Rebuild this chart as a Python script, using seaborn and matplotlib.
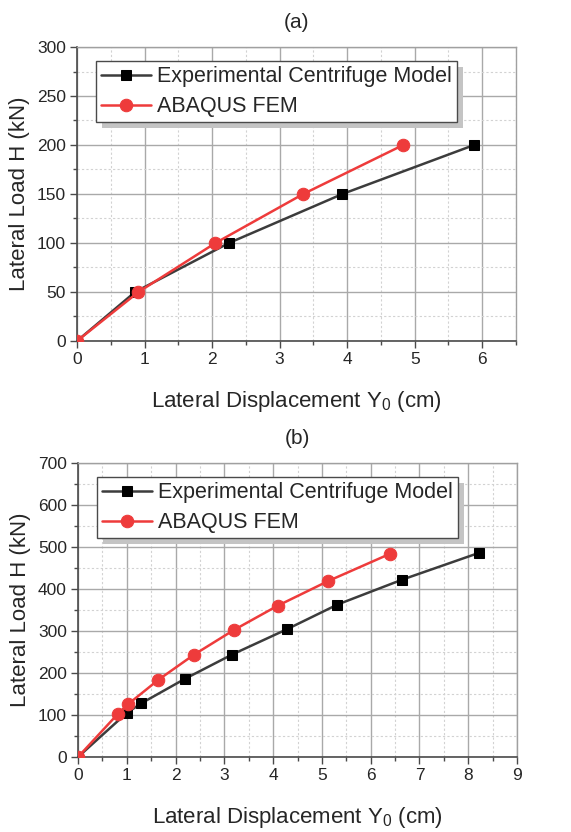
import numpy as np
import pandas as pd
import seaborn as sns
import matplotlib
matplotlib.use("Agg")
import matplotlib.pyplot as plt
from matplotlib.ticker import MultipleLocator
from matplotlib.patches import Rectangle
from matplotlib.transforms import IdentityTransform

# Panel (a): load-displacement data
a_exp_disp = [0.0, 0.86, 2.25, 3.93, 5.88]
a_exp_load = [0, 50, 100, 150, 200]
a_fem_disp = [0.0, 0.91, 2.05, 3.35, 4.83]
a_fem_load = [0, 50, 100, 150, 200]

# Panel (b): load-displacement data
b_exp_disp = [0.0, 1.00, 1.30, 2.19, 3.16, 4.28, 5.32, 6.64, 8.22]
b_exp_load = [0, 105, 128, 186, 244, 304, 363, 422, 486]
b_fem_disp = [0.0, 0.82, 1.03, 1.65, 2.37, 3.19, 4.09, 5.13, 6.40]
b_fem_load = [0, 103, 126, 184, 243, 302, 360, 419, 484]

series_names = ["Experimental Centrifuge Model", "ABAQUS FEM"]
panel_titles = ["(a)", "(b)"]
x_label = "Lateral Displacement Y$_0$ (cm)"
y_label = "Lateral Load H (kN)"

sns.set_theme(style="white")
plt.rcParams["font.family"] = ["Liberation Sans", "DejaVu Sans"]
plt.rcParams["mathtext.fontset"] = "custom"
plt.rcParams["mathtext.rm"] = "Liberation Sans"

fig = plt.figure(figsize=(5.71, 8.32), dpi=100)
ax_a = fig.add_axes([77 / 571, 1 - 341 / 832, 439 / 571, 294 / 832])
ax_b = fig.add_axes([78 / 571, 1 - 757 / 832, 439 / 571, 294 / 832])

EXP_COLOR = "#3c3c3c"
FEM_COLOR = "#ee3b3b"


def build_frame(exp_x, exp_y, fem_x, fem_y):
    return pd.concat([
        pd.DataFrame({"disp": exp_x, "load": exp_y, "series": series_names[0]}),
        pd.DataFrame({"disp": fem_x, "load": fem_y, "series": series_names[1]}),
    ], ignore_index=True)


def draw_panel(ax, df, title, xmax, ymax, ymajor, yminor, xticks_max):
    sub_e = df[df.series == series_names[0]]
    sub_f = df[df.series == series_names[1]]
    sns.lineplot(data=sub_e, x="disp", y="load", ax=ax, color=EXP_COLOR,
                 marker="s", markersize=7, markerfacecolor="black",
                 markeredgecolor="black", linewidth=1.8, label=series_names[0],
                 sort=False, zorder=3)
    sns.lineplot(data=sub_f, x="disp", y="load", ax=ax, color=FEM_COLOR,
                 marker="o", markersize=9, markerfacecolor=FEM_COLOR,
                 markeredgecolor=FEM_COLOR, linewidth=1.8, label=series_names[1],
                 sort=False, zorder=4)
    ax.set_xlim(0, xmax)
    ax.set_ylim(0, ymax)
    ax.xaxis.set_major_locator(MultipleLocator(1))
    ax.xaxis.set_minor_locator(MultipleLocator(0.5))
    ax.yaxis.set_major_locator(MultipleLocator(ymajor))
    ax.yaxis.set_minor_locator(MultipleLocator(yminor))
    ax.set_xticks(np.arange(0, xticks_max + 1, 1))
    ax.grid(which="major", color="#a9a9a9", linewidth=1.0, linestyle="-")
    ax.grid(which="minor", color="#d2d2d2", linewidth=0.8, linestyle=(0, (2, 2)))
    ax.set_axisbelow(True)
    for side in ("top", "right"):
        ax.spines[side].set_color("#a0a0a0")
        ax.spines[side].set_linewidth(1.0)
    for side in ("bottom", "left"):
        ax.spines[side].set_color("#4a4a4a")
        ax.spines[side].set_linewidth(1.2)
    ax.tick_params(which="major", direction="out", length=5, width=1.0,
                   color="#4a4a4a", labelsize=12.5, pad=3,
                   bottom=True, left=True)
    ax.tick_params(which="minor", direction="out", length=3, width=1.0,
                   color="#4a4a4a", bottom=True, left=True)
    ax.set_xlabel(x_label, fontsize=16, labelpad=16)
    ax.set_ylabel(y_label, fontsize=16, labelpad=5)
    ax.set_title(title, fontsize=15, pad=14)
    leg = ax.legend(loc="upper left", bbox_to_anchor=(0.043, 0.952),
                    borderaxespad=0, fontsize=15.5, frameon=True, fancybox=False,
                    edgecolor="#4a4a4a", framealpha=1, handlelength=2.3,
                    handletextpad=0.3, borderpad=0.25, labelspacing=0.4)
    leg.get_frame().set_linewidth(1.0)
    leg.set_zorder(10)
    return leg


df_a = build_frame(a_exp_disp, a_exp_load, a_fem_disp, a_fem_load)
df_b = build_frame(b_exp_disp, b_exp_load, b_fem_disp, b_fem_load)
leg_a = draw_panel(ax_a, df_a, panel_titles[0], 6.5, 300, 50, 25, 6)
leg_b = draw_panel(ax_b, df_b, panel_titles[1], 9, 700, 100, 50, 9)

# Drop shadows behind the legend boxes
fig.canvas.draw()
for ax, leg in ((ax_a, leg_a), (ax_b, leg_b)):
    bb = leg.get_window_extent()
    shadow = Rectangle((bb.x0 + 6, bb.y0 - 6), bb.width, bb.height,
                       facecolor="#c4c4c4", edgecolor="none", zorder=9,
                       clip_on=False)
    ax.add_patch(shadow)
    shadow.set_transform(IdentityTransform())

fig.savefig("out.png", dpi=100)
